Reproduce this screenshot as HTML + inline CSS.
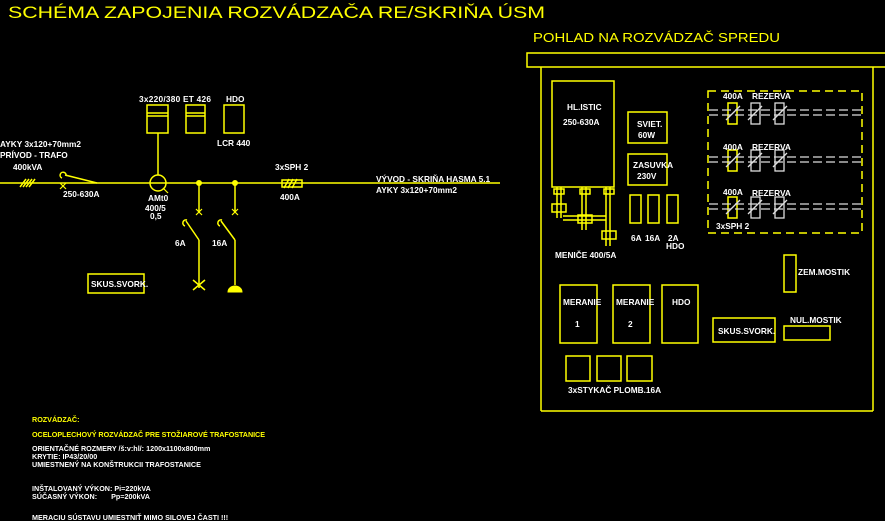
<!DOCTYPE html>
<html><head><meta charset="utf-8"><style>
html,body{margin:0;padding:0;background:#000;width:885px;height:521px;overflow:hidden}
svg{display:block}
text{font-family:"Liberation Sans",sans-serif;font-weight:bold;font-size:8.3px;fill:#fff}
.y{fill:#ffff00}
.b{font-size:7.2px}
.t{font-weight:normal}
</style></head><body>
<svg width="885" height="521" viewBox="0 0 885 521" xmlns="http://www.w3.org/2000/svg">
<g fill="none" stroke="#ffff00" stroke-width="1.5">
<line x1="0" y1="183" x2="500" y2="183"/>
<line x1="20" y1="187" x2="26" y2="179"/><line x1="23" y1="187" x2="29" y2="179"/><line x1="26" y1="187" x2="32" y2="179"/><line x1="29" y1="187" x2="35" y2="179"/>
<path d="M66 176 A3 3 0 1 0 62 178"/>
<line x1="65" y1="175" x2="97" y2="183"/>
<circle cx="158" cy="183" r="8"/>
<line x1="158" y1="175" x2="158" y2="133"/>
<rect x="147" y="105" width="21" height="28"/><line x1="147" y1="113" x2="168" y2="113"/><line x1="147" y1="116" x2="168" y2="116"/>
<rect x="186" y="105" width="19" height="28"/><line x1="186" y1="113" x2="205" y2="113"/><line x1="186" y1="116" x2="205" y2="116"/>
<rect x="224" y="105" width="20" height="28"/>
<line x1="199" y1="183" x2="199" y2="212"/>
<line x1="235" y1="183" x2="235" y2="212"/>
<path d="M187 220 A3 3 0 1 0 185 226"/><line x1="186" y1="221" x2="199" y2="240"/><line x1="199" y1="240" x2="199" y2="288"/>
<path d="M222 220 A3 3 0 1 0 220 226"/><line x1="221" y1="221" x2="235" y2="240"/><line x1="235" y1="240" x2="235" y2="285"/>
<line x1="193" y1="280" x2="205" y2="290"/><line x1="205" y1="280" x2="193" y2="290"/>
<rect x="282" y="180" width="20" height="7"/>
<line x1="284" y1="188" x2="289" y2="179"/><line x1="288" y1="188" x2="293" y2="179"/><line x1="292" y1="188" x2="297" y2="179"/>
<rect x="88" y="274" width="56" height="19"/>
<rect x="527" y="53" width="362" height="14"/>
<line x1="541" y1="67" x2="541" y2="411"/><line x1="873" y1="67" x2="873" y2="411"/><line x1="541" y1="411" x2="873" y2="411"/>
<rect x="552" y="81" width="62" height="106"/>
<rect x="628" y="112" width="39" height="31"/>
<rect x="628" y="154" width="39" height="31"/>
<rect x="630" y="195" width="11" height="28"/><rect x="648" y="195" width="11" height="28"/><rect x="667" y="195" width="11" height="28"/>
<line x1="557" y1="187" x2="557" y2="218"/><line x1="561" y1="187" x2="561" y2="218"/>
<line x1="582" y1="187" x2="582" y2="230"/><line x1="586" y1="187" x2="586" y2="230"/>
<line x1="606" y1="187" x2="606" y2="246"/><line x1="610" y1="187" x2="610" y2="246"/>
<rect x="554" y="189" width="10" height="5"/><rect x="580" y="189" width="10" height="5"/><rect x="604" y="189" width="10" height="5"/>
<rect x="552" y="204" width="14" height="8"/><rect x="578" y="215" width="14" height="8"/><rect x="602" y="231" width="14" height="8"/>
<line x1="563" y1="216" x2="606" y2="216"/><line x1="563" y1="220" x2="606" y2="220"/>
<rect x="708" y="91" width="154" height="142" stroke-dasharray="8,5"/>
<rect x="728" y="103" width="9" height="21"/><rect x="728" y="150" width="9" height="21"/><rect x="728" y="197" width="9" height="21"/>
<rect x="784" y="255" width="12" height="37"/>
<rect x="560" y="285" width="37" height="58"/><rect x="613" y="285" width="37" height="58"/><rect x="662" y="285" width="36" height="58"/>
<rect x="713" y="318" width="62" height="24"/>
<rect x="784" y="326" width="46" height="14"/>
<rect x="566" y="356" width="24" height="25"/><rect x="597" y="356" width="24" height="25"/><rect x="627" y="356" width="25" height="25"/>
</g>
<g stroke="#ffff00" fill="#ffff00">
<circle cx="199" cy="183" r="2.5"/><circle cx="235" cy="183" r="2.5"/>
<path d="M228 292 A7 6 0 0 1 242 292 Z"/>
</g>
<g stroke="#ffff00" stroke-width="1.2" fill="none">
<line x1="196" y1="209" x2="202" y2="215"/><line x1="202" y1="209" x2="196" y2="215"/>
<line x1="232" y1="209" x2="238" y2="215"/><line x1="238" y1="209" x2="232" y2="215"/>
<line x1="60" y1="183" x2="66" y2="189"/><line x1="66" y1="183" x2="60" y2="189"/>
<line x1="163" y1="188" x2="168" y2="193"/>
</g>
<g stroke="#ddd" stroke-width="1.3" fill="none">
<g id="row">
<line x1="709" y1="110" x2="862" y2="110" stroke-dasharray="9,4"/><line x1="709" y1="115" x2="862" y2="115" stroke-dasharray="9,4"/>
<rect x="751" y="103" width="9" height="21"/><rect x="775" y="103" width="9" height="21"/>
<line x1="726" y1="120" x2="740" y2="106"/><line x1="748" y1="120" x2="762" y2="106"/><line x1="773" y1="120" x2="787" y2="106"/>
</g>
<use href="#row" y="47"/><use href="#row" y="94"/>
</g>
<text x="8" y="18" class="y t" style="font-size:17px" textLength="537" lengthAdjust="spacingAndGlyphs">SCHÉMA ZAPOJENIA ROZVÁDZAČA RE/SKRIŇA ÚSM</text>
<text x="533" y="42" class="y t" style="font-size:13px" textLength="247" lengthAdjust="spacingAndGlyphs">POHLAD NA ROZVÁDZAČ SPREDU</text>
<text x="139" y="102" textLength="72">3x220/380 ET 426</text><text x="226" y="102">HDO</text><text x="217" y="146">LCR 440</text>
<text x="0" y="147">AYKY 3x120+70mm2</text><text x="0" y="158">PRÍVOD - TRAFO</text><text x="13" y="170">400kVA</text>
<text x="63" y="197">250-630A</text>
<text x="148" y="201">AMt0</text><text x="145" y="211">400/5</text><text x="150" y="219">0,5</text>
<text x="175" y="246">6A</text><text x="212" y="246">16A</text>
<text x="275" y="170">3xSPH 2</text><text x="280" y="200">400A</text>
<text x="376" y="182">VÝVOD - SKRIŇA HASMA 5.1</text><text x="376" y="193">AYKY 3x120+70mm2</text>
<text x="91" y="287">SKUS.SVORK.</text>
<text x="567" y="110">HL.ISTIC</text><text x="563" y="125">250-630A</text>
<text x="637" y="127">SVIET.</text><text x="638" y="138">60W</text>
<text x="633" y="168">ZASUVKA</text><text x="637" y="179">230V</text>
<text x="631" y="241">6A</text><text x="645" y="241">16A</text><text x="668" y="241">2A</text><text x="666" y="249">HDO</text>
<text x="555" y="258">MENIČE 400/5A</text>
<text x="723" y="99">400A</text><text x="752" y="99">REZERVA</text>
<text x="723" y="150">400A</text><text x="752" y="150">REZERVA</text>
<text x="723" y="195">400A</text><text x="752" y="196">REZERVA</text>
<text x="716" y="229">3xSPH 2</text>
<text x="798" y="275">ZEM.MOSTIK</text><text x="790" y="323">NUL.MOSTIK</text>
<text x="563" y="305">MERANIE</text><text x="575" y="327">1</text>
<text x="616" y="305">MERANIE</text><text x="628" y="327">2</text>
<text x="672" y="305">HDO</text>
<text x="718" y="334">SKUS.SVORK.</text>
<text x="568" y="393">3xSTYKAČ PLOMB.16A</text>
<text x="32" y="422" class="y b">ROZVÁDZAČ:</text>
<text x="32" y="437" class="y b" textLength="233">OCELOPLECHOVÝ ROZVÁDZAČ PRE STOŽIAROVÉ TRAFOSTANICE</text>
<text x="32" y="451" class="b">ORIENTAČNÉ ROZMERY /š:v:hl/: 1200x1100x800mm</text>
<text x="32" y="459" class="b">KRYTIE: IP43/20/00</text>
<text x="32" y="467" class="b">UMIESTNENÝ NA KONŠTRUKCII TRAFOSTANICE</text>
<text x="32" y="491" class="b">INŠTALOVANÝ VÝKON: Pi=220kVA</text>
<text x="32" y="499" class="b">SÚČASNÝ VÝKON:&#160;&#160;&#160;&#160;&#160;&#160;&#160;Pp=200kVA</text>
<text x="32" y="520" class="b">MERACIU SÚSTAVU UMIESTNIŤ MIMO SILOVEJ ČASTI !!!</text>
</svg>
</body></html>
